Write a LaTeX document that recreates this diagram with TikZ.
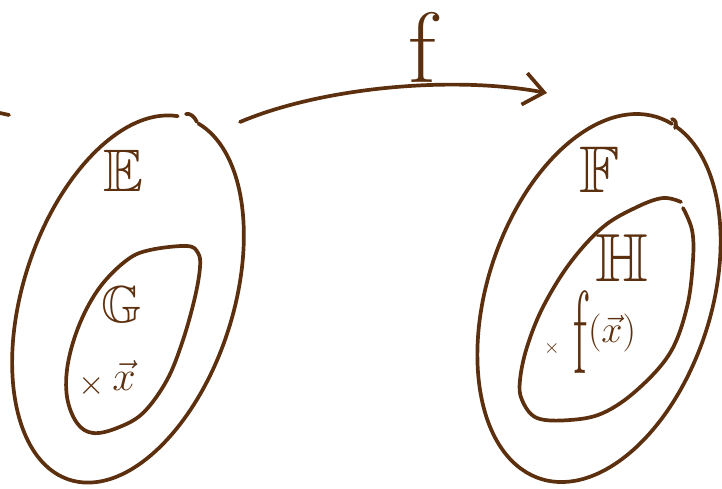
\RequirePackage{fix-cm}
\documentclass[tikz,border=0pt]{standalone}
\usepackage{amssymb}
\usetikzlibrary{arrows.meta,calc}
\definecolor{ink}{RGB}{92,48,14}
\tikzset{
  pen/.style={draw=ink, line width=3.7pt, line cap=round, line join=round},
  lbl/.style={text=ink, inner sep=0pt, outer sep=0pt},
}
\begin{document}
\begin{tikzpicture}[x=1pt,y=1pt]
\useasboundingbox (0,0) rectangle (722,-488);
% small stray stroke at the left edge
\draw[pen] (0,-113) -- (9,-115);
% ---- left set E ----
\coordinate (Ec) at (128,-299);
\draw[pen, rotate around={-18:(Ec)}]
  ($(Ec)+(95:105 and 190)$) arc[start angle=95, end angle=443, x radius=105, y radius=190];
\draw[pen] (186,-114) .. controls (190,-113) and (194,-116) .. (197,-122);
% inner set G
\draw[pen] plot[smooth cycle, tension=0.6] coordinates {
  (198,-253) (187,-246) (150,-250) (127,-260) (100,-287) (80,-323) (68,-363)
  (67,-397) (77,-423) (93,-433) (117,-428) (143,-413) (167,-380) (183,-340)
  (195,-297) (200,-267)};
\node[lbl, font=\fontsize{60}{60}\selectfont] (E) at (123,-171) {$\mathbb{E}$};
\node[lbl, font=\fontsize{52}{52}\selectfont] (G) at (122,-305) {$\mathbb{G}$};
\node[lbl, font=\fontsize{34}{34}\selectfont] (xl) at (92,-386) {$\times$};
\node[lbl, font=\fontsize{42}{42}\selectfont] (vx) at (124,-376) {$\vec{x}$};
% ---- right set F ----
\coordinate (Fc) at (599,-298);
\draw[pen, rotate around={-18:(Fc)}]
  ($(Fc)+(82:112 and 190)$) arc[start angle=82, end angle=440, x radius=112, y radius=190];
\draw[pen] (672,-119) .. controls (676,-120) and (677,-124) .. (675,-128);
% inner set H
\draw[pen] plot[smooth, tension=0.6] coordinates {
  (683,-208) (692,-230) (693,-260) (687,-307) (670,-353) (637,-390) (603,-413)
  (570,-420) (537,-418) (522,-400) (520,-380) (527,-347) (543,-307) (570,-263)
  (603,-227) (637,-207) (663,-198) (681,-202)};
\node[lbl, font=\fontsize{66}{66}\selectfont] (F) at (600,-170) {$\mathbb{F}$};
\node[lbl, font=\fontsize{68}{68}\selectfont] (H) at (622,-258) {$\mathbb{H}$};
\node[lbl, font=\fontsize{20}{20}\selectfont] (xr) at (552,-348) {$\times$};
\node[lbl, font=\fontsize{118}{118}\selectfont, xscale=0.42, anchor=base] (fr) at (580,-373) {f};
\node[lbl, font=\fontsize{38}{38}\selectfont, anchor=west] (fx) at (588,-333) {$(\vec{x})$};
% ---- map f ----
\coordinate (a0) at (240,-122);
\coordinate (a1) at (547,-93);
\draw[pen, -{Straight Barb[length=20pt,width=32pt]}]
  (a0) .. controls (320,-88) and (450,-75) .. (a1);
\node[lbl, font=\fontsize{100}{100}\selectfont, anchor=base] (flab) at (422,-82) {f};
\end{tikzpicture}
\end{document}
